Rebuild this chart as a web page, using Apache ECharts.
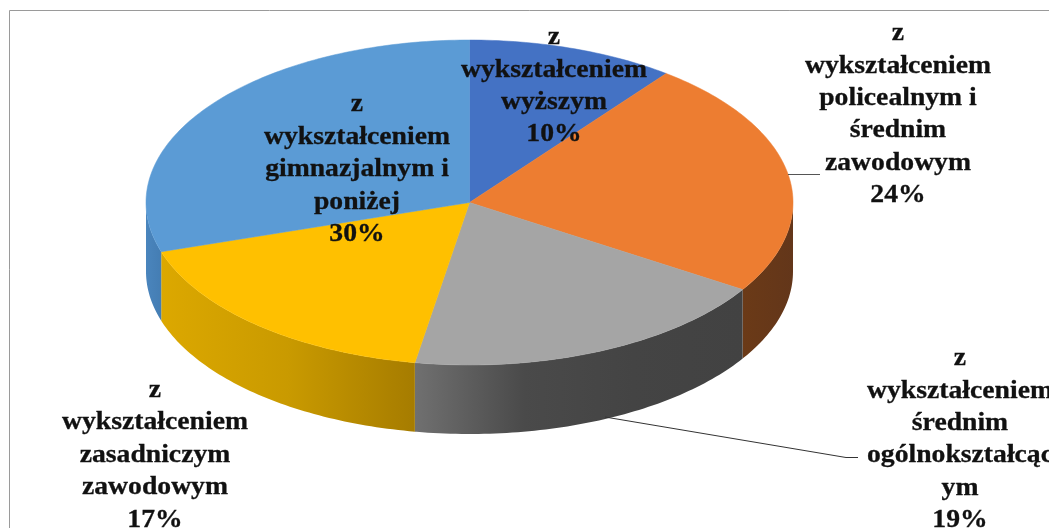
<!DOCTYPE html>
<html><head><meta charset="utf-8">
<style>html,body{margin:0;padding:0;background:#fff;overflow:hidden}#c{width:1049px;height:528px}</style>
<script src="https://cdn.jsdelivr.net/npm/echarts@6/dist/echarts.min.js"></script>
</head><body><div id="c"></div>
<script>
const categories = [
  "z\nwykształceniem\nwyższym",
  "z\nwykształceniem\npolicealnym i\nśrednim\nzawodowym",
  "z\nwykształceniem\nśrednim\nogólnokształcąc\nym",
  "z\nwykształceniem\nzasadniczym\nzawodowym",
  "z\nwykształceniem\ngimnazjalnym i\nponiżej"
];
const values = [10.4, 23.6, 18.7, 17.4, 29.9];
const topColors = ["#4472C4", "#ED7D31", "#A5A5A5", "#FFC000", "#5B9BD5"];
const sideColors = [
  ["#33568f", "#33568f"],
  ["#6b3a17", "#63361a"],
  ["#707070", "#4a4a4a", "#444444", "#424242"],
  ["#dcA800", "#c99a00", "#a67c00"],
  ["#4a85bd", "#447db3"]
];
const labelPos = [[554, 86], [898, 114.5], [960, 439.5], [155, 455], [357, 169.5]];

const cx = 469.5, cy = 202.5, rx = 323.5, ry = 162.5, depth = 69;
const total = values.reduce((a, b) => a + b, 0);
const rad = d => d * Math.PI / 180;
const pt = (deg, dy) => [cx + rx * Math.sin(rad(deg)), cy - ry * Math.cos(rad(deg)) + (dy || 0)];

function renderSlice(params, api) {
  const i = params.dataIndex;
  let start = 0;
  for (let k = 0; k < i; k++) start += values[k] / total * 360;
  const end = start + api.value(0) / total * 360;
  const children = [];
  const a = Math.max(start, 90), b = Math.min(end, 270);
  if (b > a) {
    const up = [], down = [];
    for (let d = a; d < b; d += 1) { up.push(pt(d)); down.unshift(pt(d, depth)); }
    up.push(pt(b)); down.unshift(pt(b, depth));
    const cs = sideColors[i];
    const stops = cs.map((c, n) => ({ offset: n / (cs.length - 1), color: c }));
    // x runs left to right on screen; slices past the bottom run right to left
    children.push({
      type: 'polygon',
      shape: { points: up.concat(down) },
      style: { fill: new echarts.graphic.LinearGradient(0, 0, 1, 0, stops) }
    });
  }
  const face = [[cx, cy]];
  for (let d = start; d < end; d += 1) face.push(pt(d));
  face.push(pt(end));
  children.push({
    type: 'polygon',
    shape: { points: face },
    style: { fill: topColors[i], stroke: topColors[i], lineWidth: 0.5 }
  });
  return { type: 'group', children };
}

const chart = echarts.init(document.getElementById('c'), null, { renderer: 'canvas' });
const labels = categories.map((c, i) => ({
  type: 'text', x: labelPos[i][0], y: labelPos[i][1], z: 50, scaleX: 1.064,
  style: {
    text: c + "\n" + Math.round(values[i] / total * 100) + "%",
    font: 'bold 26px "Liberation Serif"', fill: '#111', lineHeight: 32.4,
    align: 'center', verticalAlign: 'middle', stroke: '#111', lineWidth: 0.3
  }
}));
chart.setOption({
  animation: false,
  backgroundColor: '#fff',
  graphic: [
    { type: 'rect', shape: { x: 9.5, y: 10.5, width: 1200, height: 700 }, z: -1,
      style: { fill: 'none', stroke: '#9a9a9a', lineWidth: 1 } },
    { type: 'polyline', z: 40, shape: { points: [[788, 174.5], [820, 174.5]] }, style: { stroke: '#555', lineWidth: 1, fill: 'none' } },
    { type: 'polyline', z: 40, shape: { points: [[605, 417], [846, 457.5], [858, 457.5]] }, style: { stroke: '#333', lineWidth: 1, fill: 'none' } }
  ].concat(labels),
  series: [{
    type: 'custom',
    coordinateSystem: 'none',
    renderItem: renderSlice,
    data: values.map(v => [v]),
    silent: true,
    z: 10
  }]
});
</script></body></html>
